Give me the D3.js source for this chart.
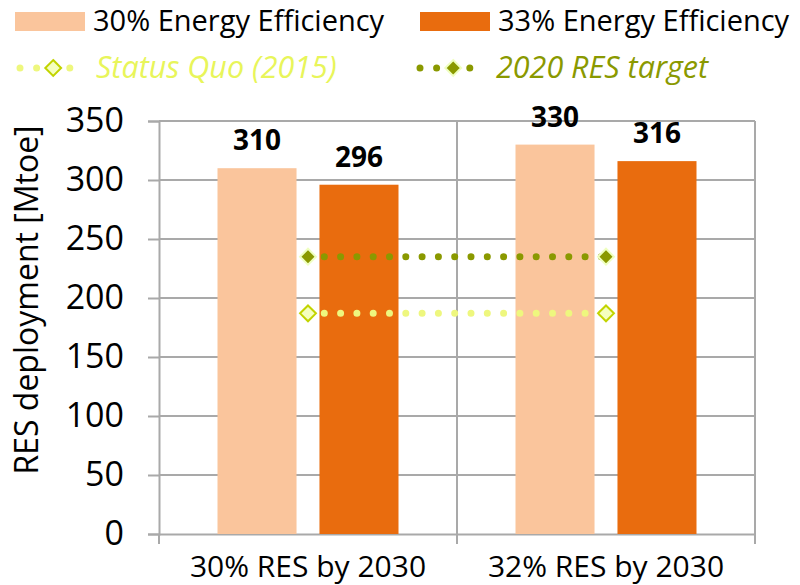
<!DOCTYPE html>
<html>
<head>
<meta charset="utf-8">
<script src="https://cdn.jsdelivr.net/npm/d3@7"></script>
<style>
  body { margin: 0; background: #fff; }
  text { font-family: "Open Sans", "Noto Sans", sans-serif; }
</style>
</head>
<body>
<div id="chart"></div>
<script>
// data
const categories = ['30% RES by 2030', '32% RES by 2030'];
const seriesNames = ['30% Energy Efficiency', '33% Energy Efficiency'];
const ee30 = [310, 330];
const ee33 = [296, 316];
const statusQuo = [187, 187];
const target2020 = [235, 235];
const yTicks = [0, 50, 100, 150, 200, 250, 300, 350];

const width = 800, height = 585;
const margin = { top: 121, right: 45, bottom: 51, left: 159 };
const innerW = width - margin.left - margin.right;
const innerH = height - margin.top - margin.bottom;

const barColors = ['#fac59c', '#e96c0e'];
const sqColor = '#eef77e', sqStroke = '#c2d400', sqFill = '#f5ffbf';
const tgColor = '#8a9900';

const svg = d3.select('#chart').append('svg')
  .attr('width', width).attr('height', height);

const g = svg.append('g').attr('transform', `translate(${margin.left},${margin.top})`);

const x0 = d3.scaleBand().domain(categories).range([0, innerW]).padding(0);
const x1 = d3.scaleBand().domain(seriesNames)
  .range([58.5, x0.bandwidth() - 58.5]).paddingInner(0.225).paddingOuter(0);
const y = d3.scaleLinear().domain([0, 350]).range([innerH, 0]);

// gridlines
g.append('g')
  .selectAll('line').data(yTicks.filter(d => d > 0)).join('line')
  .attr('x1', 0).attr('x2', innerW)
  .attr('y1', d => y(d)).attr('y2', d => y(d))
  .attr('stroke', '#a9a9a9').attr('stroke-width', 2);

// vertical category separators + right border
g.append('g')
  .selectAll('line').data(categories.slice(1).concat(['end'])).join('line')
  .attr('x1', d => d === 'end' ? innerW : x0(d))
  .attr('x2', d => d === 'end' ? innerW : x0(d))
  .attr('y1', 0).attr('y2', innerH)
  .attr('stroke', '#a9a9a9').attr('stroke-width', 2);

// y axis
const yAxis = g.append('g')
  .call(d3.axisLeft(y).tickValues(yTicks).tickSize(11).tickPadding(24))
yAxis.select('.domain').attr('stroke', '#a9a9a9').attr('stroke-width', 2);
yAxis.selectAll('.tick line').attr('stroke', '#a9a9a9').attr('stroke-width', 2);
yAxis.selectAll('.tick text')
  .attr('font-size', 34).attr('fill', '#000')
  .style('font-family', '"Open Sans", sans-serif');

// x axis
const xAxis = g.append('g').attr('transform', `translate(0,${innerH})`)
  .call(d3.axisBottom(x0).tickSize(0).tickPadding(22));
xAxis.select('.domain').attr('stroke', '#a9a9a9').attr('stroke-width', 2);
xAxis.selectAll('.tick text').attr('font-size', 30).attr('fill', '#000')
  .style('font-family', '"Open Sans", sans-serif');
xAxis.append('g').selectAll('line').data([0, x0.bandwidth(), innerW]).join('line')
  .attr('x1', d => d).attr('x2', d => d).attr('y1', 0).attr('y2', 10)
  .attr('stroke', '#a9a9a9').attr('stroke-width', 2);

// bars
const barData = [];
categories.forEach((c, i) => {
  barData.push({ cat: c, key: seriesNames[0], value: ee30[i], color: barColors[0] });
  barData.push({ cat: c, key: seriesNames[1], value: ee33[i], color: barColors[1] });
});
g.append('g').selectAll('rect').data(barData).join('rect')
  .attr('x', d => x0(d.cat) + x1(d.key))
  .attr('y', d => y(d.value))
  .attr('width', x1.bandwidth())
  .attr('height', d => innerH - y(d.value))
  .attr('fill', d => d.color);

// value labels
g.append('g').selectAll('text').data(barData).join('text')
  .attr('x', d => x0(d.cat) + x1(d.key) + x1.bandwidth() / 2)
  .attr('y', d => y(d.value) - 18)
  .attr('text-anchor', 'middle')
  .attr('font-size', 28).attr('font-weight', 'bold').attr('fill', '#000')
  .text(d => d.value);

// dotted lines
const cx = d => x0(d) + x0.bandwidth() / 2;
const line = d3.line().x(d => cx(d.cat)).y(d => y(d.v));
const diamond = d3.symbol().type(d3.symbolDiamond2);

function drawDotted(vals, color, mStroke, mFill) {
  const pts = categories.map((c, i) => ({ cat: c, v: vals[i] }));
  g.append('path').datum(pts)
    .attr('d', line)
    .attr('fill', 'none').attr('stroke', color)
    .attr('stroke-width', 7).attr('stroke-linecap', 'round')
    .attr('stroke-dasharray', '0 16.3').attr('stroke-dashoffset', -16.3);
  g.append('g').selectAll('path').data(pts).join('path')
    .attr('transform', d => `translate(${cx(d.cat)},${y(d.v)})`)
    .attr('d', diamond.size(160))
    .attr('fill', mFill).attr('stroke', mStroke).attr('stroke-width', 2);
}
drawDotted(statusQuo, sqColor, sqStroke, sqFill);
drawDotted(target2020, tgColor, '#efffc0', tgColor);

// y axis title
svg.append('text')
  .attr('transform', 'translate(38,300) rotate(-90)')
  .attr('text-anchor', 'middle')
  .attr('font-size', 32).attr('fill', '#000')
  .text('RES deployment [Mtoe]');

// legend
const legend = svg.append('g');
const barLegend = [
  { name: seriesNames[0], color: barColors[0], x: 15 },
  { name: seriesNames[1], color: barColors[1], x: 420 }
];
barLegend.forEach(d => {
  legend.append('rect').attr('x', d.x).attr('y', 12).attr('width', 70).attr('height', 19)
    .attr('fill', d.color);
  legend.append('text').attr('x', d.x + 78).attr('y', 31)
    .attr('font-size', 29).attr('fill', '#000').text(d.name);
});

const lineLegend = [
  { name: 'Status Quo (2015)', color: sqColor, stroke: sqStroke, fill: sqFill, text: '#e8f55a', x: 20 },
  { name: '2020 RES target', color: tgColor, stroke: '#efffc0', fill: tgColor, text: tgColor, x: 420 }
];
lineLegend.forEach(d => {
  const ly = 68;
  legend.append('line').attr('x1', d.x).attr('x2', d.x + 66.4).attr('y1', ly).attr('y2', ly)
    .attr('stroke', d.color).attr('stroke-width', 7).attr('stroke-linecap', 'round')
    .attr('stroke-dasharray', '0 16.6');
  legend.append('path').attr('transform', `translate(${d.x + 33.2},${ly})`)
    .attr('d', diamond.size(160))
    .attr('fill', d.fill).attr('stroke', d.stroke).attr('stroke-width', 2);
  legend.append('text').attr('x', d.x + 76).attr('y', ly + 10)
    .attr('font-size', 30.5).attr('font-style', 'italic').attr('fill', d.text).text(d.name);
});
</script>
</body>
</html>
